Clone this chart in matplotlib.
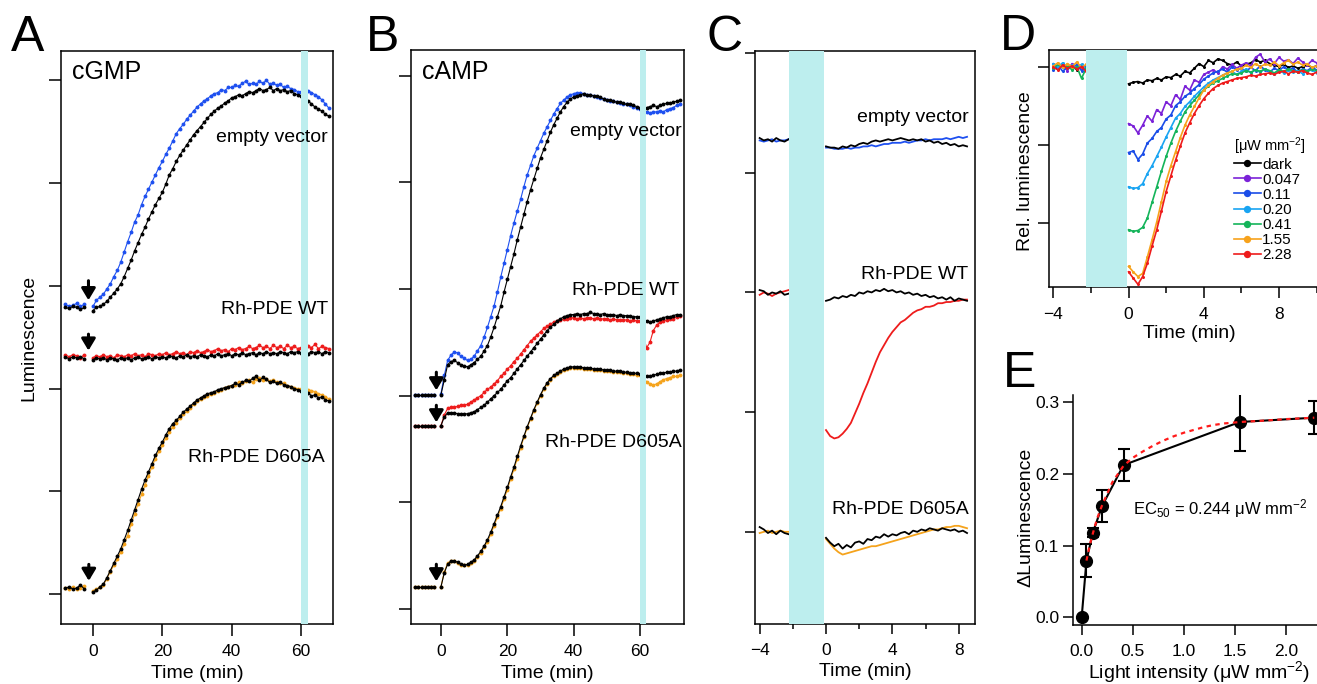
import numpy as np
import matplotlib.pyplot as plt
from matplotlib.ticker import MultipleLocator, FormatStrFormatter

plt.rcParams['font.family'] = ['Liberation Sans', 'DejaVu Sans']
plt.rcParams['mathtext.fontset'] = 'custom'
plt.rcParams['mathtext.rm'] = 'Liberation Sans'
plt.rcParams['mathtext.it'] = 'Liberation Sans:italic'

# ---------------- data (luminescence in tick units) ----------------
# Panel A, cGMP, 1 min sampling after t=0
A_empty_blue_pre = [2.82, 2.80, 2.81, 2.83, 2.80, 2.82]
A_empty_blue = [2.80, 2.86, 2.89, 2.92, 2.97, 3.02, 3.09, 3.15, 3.23, 3.33,
                3.43, 3.52, 3.62, 3.69, 3.79, 3.87, 3.94, 4.01, 4.08, 4.15,
                4.21, 4.28, 4.34, 4.41, 4.48, 4.53, 4.57, 4.62, 4.66, 4.70,
                4.74, 4.77, 4.80, 4.82, 4.85, 4.87, 4.88, 4.91, 4.90, 4.93,
                4.93, 4.95, 4.94, 4.97, 4.99, 4.96, 4.97, 4.96, 4.99, 4.97,
                5.00, 4.96, 4.97, 4.95, 4.96, 4.93, 4.94, 4.92, 4.91, 4.89,
                4.89, 4.88, 4.90, 4.88, 4.86, 4.84, 4.81, 4.77, 4.73]
A_empty_black_pre = [2.79, 2.78, 2.80, 2.79, 2.77, 2.79]
A_empty_black = [2.76, 2.79, 2.80, 2.82, 2.85, 2.89, 2.93, 2.97, 3.02, 3.09,
                 3.17, 3.25, 3.34, 3.42, 3.50, 3.57, 3.65, 3.72, 3.79, 3.85,
                 3.91, 3.99, 4.08, 4.14, 4.21, 4.27, 4.32, 4.37, 4.42, 4.47,
                 4.51, 4.55, 4.59, 4.63, 4.67, 4.70, 4.73, 4.75, 4.78, 4.80,
                 4.83, 4.84, 4.86, 4.85, 4.87, 4.89, 4.88, 4.90, 4.92, 4.90,
                 4.91, 4.93, 4.90, 4.92, 4.90, 4.91, 4.89, 4.90, 4.87, 4.86,
                 4.85, 4.82, 4.80, 4.77, 4.74, 4.72, 4.70, 4.67, 4.65]
A_wt_red_pre = [2.33, 2.31, 2.33, 2.32, 2.30, 2.33]
A_wt_red = [2.30, 2.32, 2.31, 2.33, 2.31, 2.32, 2.30, 2.33, 2.32, 2.31,
            2.33, 2.32, 2.34, 2.32, 2.33, 2.31, 2.34, 2.33, 2.32, 2.34,
            2.33, 2.35, 2.33, 2.34, 2.36, 2.34, 2.35, 2.33, 2.36, 2.35,
            2.37, 2.35, 2.36, 2.38, 2.36, 2.37, 2.39, 2.37, 2.38, 2.36,
            2.39, 2.38, 2.40, 2.38, 2.39, 2.41, 2.39, 2.40, 2.42, 2.40,
            2.41, 2.39, 2.42, 2.40, 2.41, 2.39, 2.42, 2.40, 2.41, 2.39,
            2.40, 2.40, 2.41, 2.40, 2.43, 2.39, 2.41, 2.40, 2.39]
A_wt_black_pre = [2.31, 2.29, 2.31, 2.30, 2.31, 2.29]
A_wt_black = [2.28, 2.30, 2.29, 2.30, 2.28, 2.30, 2.29, 2.28, 2.30, 2.29,
              2.30, 2.28, 2.30, 2.31, 2.29, 2.30, 2.31, 2.29, 2.31, 2.30,
              2.31, 2.30, 2.32, 2.31, 2.30, 2.32, 2.31, 2.33, 2.31, 2.32,
              2.31, 2.33, 2.32, 2.31, 2.33, 2.32, 2.34, 2.32, 2.33, 2.34,
              2.32, 2.34, 2.33, 2.35, 2.33, 2.34, 2.35, 2.33, 2.35, 2.34,
              2.36, 2.34, 2.35, 2.34, 2.36, 2.35, 2.34, 2.36, 2.35, 2.36,
              2.35, 2.35, 2.34, 2.36, 2.35, 2.36, 2.34, 2.36, 2.35]
A_mut_orange_pre = [0.06, 0.05, 0.07, 0.05, 0.06, 0.08]
A_mut_orange = [0.03, 0.05, 0.07, 0.09, 0.15, 0.22, 0.28, 0.34, 0.41, 0.49,
                0.57, 0.68, 0.78, 0.88, 0.97, 1.06, 1.15, 1.24, 1.32, 1.39,
                1.45, 1.52, 1.58, 1.63, 1.67, 1.71, 1.75, 1.78, 1.81, 1.85,
                1.88, 1.90, 1.92, 1.93, 1.95, 1.96, 1.98, 1.99, 2.01, 2.02,
                2.03, 2.04, 2.06, 2.05, 2.07, 2.08, 2.06, 2.09, 2.10, 2.08,
                2.09, 2.07, 2.08, 2.06, 2.05, 2.05, 2.03, 2.02, 2.01, 2.00,
                2.00, 1.99, 1.99, 1.98, 1.97, 1.95, 1.94, 1.92, 1.90]
A_mut_black_pre = [0.06, 0.07, 0.05, 0.06, 0.09, 0.05]
A_mut_black = [0.02, 0.04, 0.07, 0.10, 0.16, 0.23, 0.30, 0.37, 0.44, 0.53,
               0.62, 0.72, 0.82, 0.92, 1.02, 1.11, 1.19, 1.27, 1.35, 1.42,
               1.48, 1.55, 1.61, 1.66, 1.69, 1.73, 1.77, 1.80, 1.83, 1.86,
               1.89, 1.91, 1.93, 1.95, 1.96, 1.97, 1.99, 2.00, 2.01, 2.02,
               2.03, 2.05, 2.04, 2.06, 2.08, 2.07, 2.10, 2.12, 2.08, 2.11,
               2.09, 2.06, 2.07, 2.05, 2.06, 2.04, 2.03, 2.02, 2.00, 1.99,
               1.98, 1.97, 1.96, 1.93, 1.94, 1.91, 1.92, 1.89, 1.88]

# Panel B, cAMP, 1 min sampling after t=0
B_empty_pre = [2.01, 2.01, 2.01, 2.01, 2.01, 2.01, 2.01]
B_empty_blue = [2.02, 2.19, 2.33, 2.38, 2.41, 2.40, 2.37, 2.35, 2.33, 2.34,
                2.37, 2.42, 2.47, 2.55, 2.64, 2.74, 2.84, 2.97, 3.11, 3.24,
                3.37, 3.50, 3.62, 3.73, 3.84, 3.96, 4.07, 4.16, 4.25, 4.32,
                4.39, 4.46, 4.52, 4.58, 4.64, 4.69, 4.74, 4.77, 4.80, 4.82,
                4.83, 4.84, 4.84, 4.83, 4.82, 4.82, 4.81, 4.80, 4.79, 4.78,
                4.77, 4.76, 4.76, 4.75, 4.74, 4.73, 4.73, 4.72, 4.71, 4.70,
                4.69, 4.68, 4.66, 4.65, 4.66, 4.66, 4.67, 4.66, 4.68, 4.69,
                4.70, 4.72, 4.73]
B_empty_black = [2.01, 2.15, 2.29, 2.32, 2.33, 2.31, 2.29, 2.28, 2.27, 2.29,
                 2.31, 2.34, 2.37, 2.42, 2.47, 2.55, 2.64, 2.74, 2.84, 2.97,
                 3.09, 3.21, 3.33, 3.46, 3.58, 3.70, 3.82, 3.93, 4.03, 4.13,
                 4.23, 4.31, 4.39, 4.47, 4.54, 4.60, 4.66, 4.71, 4.75, 4.78,
                 4.80, 4.81, 4.82, 4.83, 4.82, 4.82, 4.81, 4.81, 4.80, 4.78,
                 4.77, 4.77, 4.76, 4.75, 4.75, 4.74, 4.73, 4.73, 4.72, 4.71,
                 4.70, 4.70, 4.70, 4.71, 4.72, 4.71, 4.72, 4.73, 4.74, 4.74,
                 4.75, 4.76, 4.77]
B_wt_pre = [1.72, 1.72, 1.72, 1.72, 1.72, 1.72, 1.72]
B_wt_red = [1.72, 1.82, 1.88, 1.89, 1.89, 1.90, 1.91, 1.91, 1.92, 1.94,
            1.96, 1.98, 2.00, 2.03, 2.06, 2.08, 2.11, 2.14, 2.18, 2.21,
            2.25, 2.28, 2.32, 2.35, 2.39, 2.43, 2.47, 2.51, 2.54, 2.57,
            2.60, 2.63, 2.65, 2.67, 2.69, 2.70, 2.71, 2.72, 2.72, 2.73,
            2.73, 2.72, 2.73, 2.72, 2.73, 2.73, 2.72, 2.73, 2.72, 2.72,
            2.72, 2.71, 2.72, 2.71, 2.71, 2.71, 2.71, 2.70, 2.71, 2.70,
            2.70, 2.55, 2.45, 2.50, 2.61, 2.66, 2.69, 2.70, 2.71, 2.72,
            2.72, 2.74, 2.75]
B_wt_black = [1.72, 1.80, 1.84, 1.84, 1.84, 1.83, 1.83, 1.83, 1.83, 1.84,
              1.85, 1.87, 1.89, 1.91, 1.94, 1.97, 2.00, 2.03, 2.06, 2.10,
              2.14, 2.17, 2.21, 2.25, 2.29, 2.33, 2.37, 2.41, 2.45, 2.49,
              2.53, 2.57, 2.61, 2.64, 2.67, 2.70, 2.72, 2.74, 2.75, 2.76,
              2.76, 2.77, 2.76, 2.77, 2.77, 2.78, 2.77, 2.77, 2.76, 2.77,
              2.76, 2.76, 2.76, 2.75, 2.76, 2.75, 2.75, 2.75, 2.74, 2.74,
              2.74, 2.72, 2.70, 2.69, 2.70, 2.71, 2.72, 2.73, 2.74, 2.74,
              2.75, 2.76, 2.76]
B_mut_pre = [0.21, 0.21, 0.21, 0.21, 0.21, 0.21, 0.21]
B_mut_orange = [0.21, 0.35, 0.43, 0.45, 0.45, 0.43, 0.41, 0.41, 0.41, 0.43,
                0.45, 0.49, 0.53, 0.58, 0.63, 0.70, 0.78, 0.86, 0.94, 1.03,
                1.12, 1.22, 1.31, 1.41, 1.51, 1.61, 1.70, 1.78, 1.86, 1.93,
                2.00, 2.06, 2.11, 2.15, 2.18, 2.20, 2.22, 2.24, 2.25, 2.26,
                2.26, 2.26, 2.26, 2.25, 2.25, 2.25, 2.24, 2.24, 2.24, 2.23,
                2.23, 2.23, 2.22, 2.22, 2.22, 2.21, 2.21, 2.20, 2.20, 2.19,
                2.19, 2.17, 2.13, 2.11, 2.10, 2.11, 2.13, 2.15, 2.16, 2.17,
                2.18, 2.18, 2.19]
B_mut_black = [0.21, 0.34, 0.42, 0.45, 0.45, 0.44, 0.42, 0.41, 0.42, 0.44,
               0.46, 0.50, 0.54, 0.59, 0.65, 0.72, 0.80, 0.88, 0.96, 1.05,
               1.14, 1.24, 1.33, 1.43, 1.53, 1.62, 1.71, 1.79, 1.87, 1.94,
               2.01, 2.07, 2.12, 2.16, 2.19, 2.21, 2.23, 2.25, 2.26, 2.27,
               2.27, 2.27, 2.27, 2.26, 2.26, 2.26, 2.25, 2.25, 2.25, 2.24,
               2.24, 2.24, 2.23, 2.23, 2.23, 2.22, 2.22, 2.21, 2.21, 2.21,
               2.20, 2.19, 2.18, 2.18, 2.19, 2.20, 2.21, 2.21, 2.22, 2.22,
               2.23, 2.23, 2.24]

# Panel C, 0.25 min sampling
C_empty_blue_pre = [3.27, 3.26, 3.27, 3.28, 3.26, 3.27, 3.27, 3.28]
C_empty_blue = [3.21, 3.21, 3.20, 3.20, 3.20, 3.21, 3.20, 3.21, 3.21, 3.22,
                3.22, 3.23, 3.22, 3.23, 3.24, 3.24, 3.25, 3.25, 3.25, 3.26,
                3.25, 3.26, 3.27, 3.27, 3.28, 3.27, 3.28, 3.28, 3.28, 3.29,
                3.28, 3.29, 3.30, 3.29, 3.30]
C_empty_black_pre = [3.29, 3.27, 3.28, 3.26, 3.29, 3.27, 3.26, 3.28]
C_empty_black = [3.22, 3.21, 3.21, 3.20, 3.22, 3.21, 3.23, 3.22, 3.24, 3.25,
                 3.24, 3.26, 3.27, 3.26, 3.27, 3.28, 3.27, 3.28, 3.29, 3.28,
                 3.27, 3.28, 3.27, 3.28, 3.26, 3.27, 3.25, 3.26, 3.24, 3.25,
                 3.23, 3.24, 3.22, 3.23, 3.22]
C_wt_red_pre = [1.98, 2.00, 1.99, 1.97, 1.99, 2.00, 2.01, 2.02]
C_wt_red = [0.85, 0.80, 0.78, 0.79, 0.82, 0.86, 0.91, 0.99, 1.07, 1.16,
            1.24, 1.33, 1.42, 1.50, 1.56, 1.62, 1.67, 1.71, 1.75, 1.77,
            1.80, 1.83, 1.85, 1.86, 1.88, 1.88, 1.89, 1.91, 1.91, 1.92,
            1.92, 1.93, 1.93, 1.94, 1.94]
C_wt_black_pre = [2.02, 2.01, 1.98, 2.00, 1.99, 2.01, 1.98, 1.99]
C_wt_black = [1.93, 1.94, 1.96, 1.95, 1.97, 1.96, 1.98, 1.97, 2.00, 1.99,
              2.01, 2.00, 2.02, 2.01, 2.03, 2.01, 2.02, 2.00, 2.01, 1.99,
              2.00, 1.98, 1.99, 1.97, 1.98, 1.96, 1.97, 1.95, 1.96, 1.94,
              1.96, 1.93, 1.95, 1.94, 1.93]
C_mut_orange_pre = [-0.01, 0.00, 0.01, -0.01, 0.00, 0.01, 0.00, 0.00]
C_mut_orange = [-0.06, -0.10, -0.14, -0.17, -0.19, -0.18, -0.17, -0.16, -0.15, -0.14,
                -0.13, -0.12, -0.12, -0.11, -0.10, -0.09, -0.08, -0.07, -0.06, -0.05,
                -0.04, -0.03, -0.02, -0.01, 0.00, 0.01, 0.02, 0.02, 0.03, 0.04,
                0.04, 0.05, 0.05, 0.04, 0.03]
C_mut_black_pre = [0.04, 0.02, -0.01, 0.01, -0.02, 0.01, -0.01, -0.02]
C_mut_black = [-0.05, -0.09, -0.12, -0.10, -0.14, -0.11, -0.13, -0.09, -0.08, -0.10,
               -0.06, -0.07, -0.04, -0.05, -0.02, -0.04, -0.02, -0.03, -0.01, 0.00,
               -0.02, 0.01, 0.00, 0.02, 0.01, 0.03, 0.02, 0.01, 0.03, 0.02,
               0.01, 0.02, 0.00, 0.01, -0.01]

# Panel D, relative luminescence, 0.25 min sampling
D_labels = ['dark', '0.047', '0.11', '0.20', '0.41', '1.55', '2.28']
D_colors = ['black', '#7b22d8', '#1a4de8', '#19a4f2', '#14b45a', '#f7a21b', '#ee1b1b']
D_pre = [
    [1.000, 0.997, 1.003, 0.999, 1.002, 0.996, 1.001, 0.998],
    [1.003, 0.998, 1.001, 0.995, 1.004, 0.999, 0.997, 1.002],
    [0.996, 1.002, 0.994, 1.000, 0.997, 1.003, 0.995, 0.999],
    [1.004, 1.000, 1.005, 0.998, 1.002, 0.999, 1.003, 0.997],
    [0.998, 1.003, 0.999, 1.001, 0.996, 1.000, 0.985, 0.998],
    [1.001, 1.005, 0.999, 1.004, 1.000, 1.006, 0.999, 1.003],
    [0.999, 0.996, 1.002, 0.998, 1.001, 0.997, 1.000, 0.994],
]
D_post = [
    [0.978, 0.980, 0.981, 0.979, 0.983, 0.982, 0.985, 0.983, 0.987, 0.986,
     0.990, 0.988, 0.994, 0.992, 0.998, 1.004, 1.000, 1.008, 1.005, 1.010,
     1.008, 1.004, 1.002, 1.006, 1.001, 1.003, 1.005, 1.009, 1.006, 1.008,
     1.004, 1.002, 1.000, 1.003, 0.999, 1.001, 0.998, 1.000, 1.002, 0.999,
     1.001, 0.998, 1.000],
    [0.927, 0.924, 0.915, 0.925, 0.937, 0.930, 0.945, 0.940, 0.955, 0.950,
     0.964, 0.958, 0.975, 0.970, 0.983, 0.980, 0.990, 0.993, 0.996, 0.992,
     1.000, 0.997, 1.003, 0.998, 1.002, 1.005, 1.001, 1.012, 1.016, 1.006,
     1.010, 1.004, 1.012, 1.007, 1.009, 1.004, 1.011, 1.006, 1.002, 1.008,
     1.005, 1.003, 1.007],
    [0.890, 0.892, 0.881, 0.888, 0.902, 0.908, 0.917, 0.922, 0.933, 0.938,
     0.950, 0.955, 0.962, 0.966, 0.972, 0.977, 0.984, 0.988, 0.992, 0.994,
     0.997, 0.993, 1.000, 0.996, 0.998, 0.994, 0.999, 0.995, 1.001, 0.996,
     0.993, 0.998, 0.995, 1.000, 0.996, 0.998, 0.993, 0.997, 0.995, 0.999,
     0.996, 0.994, 0.997],
    [0.846, 0.844, 0.845, 0.850, 0.863, 0.873, 0.885, 0.897, 0.910, 0.922,
     0.934, 0.940, 0.949, 0.955, 0.962, 0.968, 0.974, 0.979, 0.983, 0.986,
     0.989, 0.992, 0.994, 0.990, 0.994, 0.997, 0.992, 0.996, 0.993, 0.997,
     0.994, 0.991, 0.995, 0.992, 0.996, 0.993, 0.995, 0.991, 0.994, 0.996,
     0.992, 0.995, 0.993],
    [0.791, 0.789, 0.790, 0.794, 0.806, 0.826, 0.846, 0.866, 0.885, 0.902,
     0.917, 0.930, 0.942, 0.950, 0.957, 0.964, 0.970, 0.975, 0.979, 0.982,
     0.985, 0.988, 0.991, 0.990, 0.992, 0.995, 0.993, 0.996, 0.994, 0.997,
     0.995, 0.992, 0.996, 0.994, 0.997, 0.995, 0.993, 0.996, 0.994, 0.997,
     0.995, 0.992, 0.995],
    [0.744, 0.737, 0.731, 0.735, 0.756, 0.778, 0.801, 0.827, 0.853, 0.873,
     0.891, 0.909, 0.925, 0.938, 0.949, 0.960, 0.970, 0.976, 0.981, 0.985,
     0.989, 0.992, 0.994, 0.997, 0.998, 1.002, 0.999, 1.004, 1.000, 1.003,
     1.002, 1.006, 1.001, 1.005, 1.008, 1.003, 1.006, 1.002, 1.004, 0.999,
     1.001, 1.003, 1.000],
    [0.737, 0.729, 0.721, 0.731, 0.748, 0.770, 0.791, 0.815, 0.840, 0.860,
     0.880, 0.898, 0.915, 0.928, 0.940, 0.950, 0.959, 0.966, 0.972, 0.976,
     0.979, 0.981, 0.983, 0.985, 0.986, 0.987, 0.989, 0.988, 0.990, 0.991,
     0.992, 0.990, 0.993, 0.994, 0.991, 0.994, 0.993, 0.995, 0.992, 0.990,
     0.993, 0.991, 0.990],
]

# Panel E, dose-response
light = [0, 0.047, 0.11, 0.20, 0.41, 1.55, 2.28]
dlum = [0, 0.079, 0.118, 0.155, 0.212, 0.272, 0.278]
dlum_err = [0, 0.023, 0.006, 0.022, 0.022, 0.040, 0.023]
fit_x = [0.047, 0.08, 0.11, 0.15, 0.20, 0.30, 0.41, 0.50, 0.60, 0.70, 0.80,
         0.90, 1.00, 1.10, 1.20, 1.30, 1.40, 1.55, 1.80, 2.00, 2.28]
fit_y = [0.079, 0.101, 0.117, 0.137, 0.156, 0.188, 0.211, 0.222, 0.231, 0.239, 0.246,
         0.252, 0.257, 0.261, 0.265, 0.268, 0.270, 0.272, 0.274, 0.276, 0.278]

BLUE = '#1e50f0'
ORANGE = '#f5a31c'
RED = '#ee1c1c'
BAND = '#bdeeee'

W, H = 1317, 684
fig = plt.figure(figsize=(W / 100, H / 100), dpi=100)


def px_axes(left, top, right, bottom):
    return fig.add_axes([left / W, 1 - bottom / H, (right - left) / W, (bottom - top) / H])


def style(ax, lw=1.1):
    for s in ax.spines.values():
        s.set_linewidth(lw)
    ax.tick_params(direction='out', width=lw, labelsize=12.5, pad=3)


def dots(ax, t, y, color, ms=2.8, lw=0.8):
    ax.plot(t, y, '-', color=color, lw=lw, marker='o', ms=ms, mew=0, zorder=2)


def down_arrow(ax, x, top, tip):
    ax.annotate('', xy=(x, tip), xytext=(x, top),
                arrowprops=dict(arrowstyle='-|>,head_length=0.5,head_width=0.3',
                                color='k', lw=2.2, shrinkA=0, shrinkB=0,
                                mutation_scale=14), zorder=5)


# ---------------- Panel A ----------------
axA = px_axes(61, 51, 333, 624)
style(axA)
tpre = np.linspace(-8.0, -2.5, len(A_empty_blue_pre))
tpost = np.arange(len(A_empty_blue))
for pre, post, col in [(A_empty_blue_pre, A_empty_blue, BLUE),
                       (A_empty_black_pre, A_empty_black, 'k'),
                       (A_wt_red_pre, A_wt_red, RED),
                       (A_wt_black_pre, A_wt_black, 'k'),
                       (A_mut_orange_pre, A_mut_orange, ORANGE),
                       (A_mut_black_pre, A_mut_black, 'k')]:
    dots(axA, tpre, pre, col)
    dots(axA, tpost, post, col)
axA.axvspan(60, 62, color=BAND, lw=0, zorder=3)
axA.set_xlim(-9.22, 69.2)
axA.set_ylim(-0.29, 5.285)
axA.set_xticks([0, 20, 40, 60])
axA.set_yticks([0, 1, 2, 3, 4, 5])
axA.set_yticklabels([])
axA.tick_params(length=8.5)
axA.tick_params(axis='x', pad=6)
down_arrow(axA, -1.3, 3.05, 2.86)
down_arrow(axA, -1.3, 2.53, 2.37)
down_arrow(axA, -1.2, 0.29, 0.13)
axA.text(-6.1, 5.08, 'cGMP', fontsize=18, ha='left', va='center')
axA.text(67.8, 4.44, 'empty vector', fontsize=14, ha='right', va='center')
axA.text(67.8, 2.77, 'Rh-PDE WT', fontsize=14, ha='right', va='center')
axA.text(66.9, 1.33, 'Rh-PDE D605A', fontsize=14, ha='right', va='center')
axA.set_xlabel('Time (min)', fontsize=14, labelpad=4)
axA.set_ylabel('Luminescence', fontsize=14)
axA.yaxis.set_label_coords(-0.088, 0.5)

# ---------------- Panel B ----------------
axB = px_axes(411, 50, 684, 624)
style(axB)
tpre = np.linspace(-7.8, -2.0, len(B_empty_pre))
tpost = np.arange(len(B_empty_blue))
for pre, post, col in [(B_empty_pre, B_empty_blue, BLUE),
                       (B_empty_pre, B_empty_black, 'k'),
                       (B_wt_pre, B_wt_red, RED),
                       (B_wt_pre, B_wt_black, 'k'),
                       (B_mut_pre, B_mut_orange, ORANGE),
                       (B_mut_pre, B_mut_black, 'k')]:
    dots(axB, tpre, pre, col)
    dots(axB, tpost, post, col)
axB.axvspan(59.9, 61.9, color=BAND, lw=0, zorder=3)
axB.set_xlim(-9.04, 73.26)
axB.set_ylim(-0.14, 5.24)
axB.set_xticks([0, 20, 40, 60])
axB.set_yticks([0, 1, 2, 3, 4, 5])
axB.set_yticklabels([])
axB.tick_params(length=8.5)
axB.tick_params(axis='x', pad=6)
down_arrow(axB, -1.4, 2.22, 2.05)
down_arrow(axB, -1.4, 1.91, 1.75)
down_arrow(axB, -1.4, 0.42, 0.26)
axB.text(-5.8, 5.03, 'cAMP', fontsize=18, ha='left', va='center')
axB.text(72.6, 4.48, 'empty vector', fontsize=14, ha='right', va='center')
axB.text(71.8, 2.99, 'Rh-PDE WT', fontsize=14, ha='right', va='center')
axB.text(72.6, 1.56, 'Rh-PDE D605A', fontsize=14, ha='right', va='center')
axB.set_xlabel('Time (min)', fontsize=14, labelpad=4)

# ---------------- Panel C ----------------
axC = px_axes(755, 51, 975, 624)
style(axC)
tpre = np.linspace(-4.0, -2.25, len(C_empty_blue_pre))
tpost = np.arange(len(C_empty_blue)) * 0.25
for pre, post, col in [(C_empty_blue_pre, C_empty_blue, BLUE),
                       (C_empty_black_pre, C_empty_black, 'k'),
                       (C_wt_red_pre, C_wt_red, RED),
                       (C_wt_black_pre, C_wt_black, 'k'),
                       (C_mut_orange_pre, C_mut_orange, ORANGE),
                       (C_mut_black_pre, C_mut_black, 'k')]:
    axC.plot(tpre, pre, color=col, lw=1.3, zorder=2)
    axC.plot(tpost, post, color=col, lw=1.3, zorder=2)
axC.axvspan(-2.25, -0.1, color=BAND, lw=0, zorder=3)
axC.set_xlim(-4.28, 8.98)
axC.set_ylim(-0.77, 4.017)
axC.set_xticks([-4, 0, 4, 8])
axC.xaxis.set_minor_locator(MultipleLocator(2))
axC.set_yticks([0, 1, 2, 3, 4])
axC.set_yticklabels([])
axC.tick_params(which='major', length=7.5)
axC.tick_params(axis='x', which='major', pad=6)
axC.tick_params(which='minor', length=3.5, width=1.1, direction='out')
axC.text(8.6, 3.46, 'empty vector', fontsize=14, ha='right', va='center')
axC.text(8.6, 2.15, 'Rh-PDE WT', fontsize=14, ha='right', va='center')
axC.text(8.6, 0.19, 'Rh-PDE D605A', fontsize=14, ha='right', va='center')
axC.set_xlabel('Time (min)', fontsize=14, labelpad=4)

# ---------------- Panel D ----------------
axD = px_axes(1049, 50, 1330, 287)
style(axD)
tpre = np.linspace(-4.0, -2.25, len(D_pre[0]))
for pre, post, col, lab in zip(D_pre, D_post, D_colors, D_labels):
    tpost = np.arange(len(post)) * 0.25
    axD.plot(tpre, pre, '-', color=col, lw=1.2, marker='o', ms=2.2, mew=0)
    axD.plot(tpost, post, '-', color=col, lw=1.2, marker='o', ms=2.2, mew=0, label=lab)
axD.axvspan(-2.25, -0.1, color=BAND, lw=0, zorder=3)
axD.set_xlim(-4.228, 10.71)
axD.set_ylim(0.7176, 1.0214)
axD.set_xticks([-4, 0, 4, 8])
axD.xaxis.set_minor_locator(MultipleLocator(2))
axD.set_yticks([0.8, 0.9, 1.0])
axD.set_yticklabels([])
axD.tick_params(which='major', length=8)
axD.tick_params(axis='x', which='major', pad=6.5)
axD.tick_params(which='minor', length=4, width=1.1, direction='out')
axD.set_xlabel('Time (min)', fontsize=14, labelpad=2)
axD.set_ylabel('Rel. luminescence', fontsize=14)
axD.yaxis.set_label_coords(-0.053, 0.49)
leg = axD.legend(title='[μW mm$^{-2}$]', loc='upper left',
                 bbox_to_anchor=(1234 / W, 1 - 135 / H), bbox_transform=fig.transFigure,
                 frameon=False, fontsize=11, title_fontsize=10.5, handlelength=1.75,
                 handletextpad=0.1, labelspacing=0.07, borderpad=0, borderaxespad=0,
                 markerscale=2.4, alignment='left')

# ---------------- Panel E ----------------
axE = px_axes(1073, 395, 1330, 625)
style(axE)
axE.spines['top'].set_visible(False)
axE.spines['right'].set_visible(False)
axE.plot(light, dlum, '-', color='k', lw=1.5, zorder=2)
has_err = [e > 0 for e in dlum_err]
axE.errorbar(np.array(light)[has_err], np.array(dlum)[has_err], yerr=np.array(dlum_err)[has_err],
             fmt='none', ecolor='k', elinewidth=1.5, capsize=4, capthick=1.5, zorder=2)
axE.plot(light, dlum, 'o', color='k', ms=8.5, zorder=3)
axE.plot(fit_x, fit_y, color='#ff1a1a', lw=1.6, ls=(0, (2, 2)), zorder=4)
axE.set_xlim(-0.085, 2.434)
axE.set_ylim(-0.0107, 0.3096)
axE.set_xticks([0, 0.5, 1.0, 1.5, 2.0])
axE.set_yticks([0, 0.1, 0.2, 0.3])
axE.xaxis.set_major_formatter(FormatStrFormatter('%.1f'))
axE.yaxis.set_major_formatter(FormatStrFormatter('%.1f'))
axE.tick_params(length=7)
axE.tick_params(axis='x', pad=7)
axE.text(0.503, 0.152, 'EC$_{50}$ = 0.244 μW mm$^{-2}$', fontsize=12, ha='left', va='center')
axE.set_xlabel('Light intensity (μW mm$^{-2}$)', fontsize=14, labelpad=0)
axE.xaxis.set_label_coords((1199 - 1073) / 257, -0.148)
axE.set_ylabel('ΔLuminescence', fontsize=14)
axE.yaxis.set_label_coords(-0.152, 0.47)

# panel letters
for letter, x, y in [('A', 28, 38), ('B', 383, 38), ('C', 725, 38), ('D', 1018, 37), ('E', 1020, 374)]:
    fig.text(x / W, 1 - y / H, letter, fontsize=36, ha='center', va='center')

fig.savefig('out.png', dpi=100)
